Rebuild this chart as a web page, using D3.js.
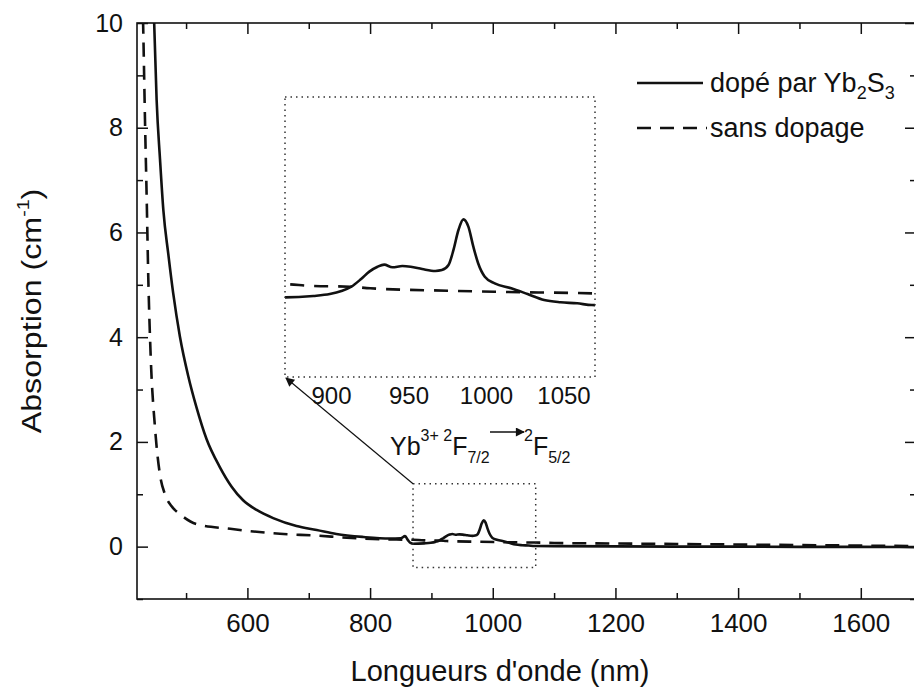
<!DOCTYPE html>
<html><head><meta charset="utf-8">
<script src="https://cdn.jsdelivr.net/npm/d3@7"></script>
<style>
html,body{margin:0;padding:0;background:#fff;}
svg{display:block;}
text{font-family:"Liberation Sans",Arial,Helvetica,sans-serif;fill:#111;}
</style></head>
<body>
<svg id="chart" width="914" height="695"></svg>
<script>
// ---- data ----
const dopedWavelength = [445, 448, 452, 457.5, 463, 471, 479, 490, 503.5, 517, 533.5, 555, 574, 593, 615, 642, 680, 713, 745, 789, 832, 850, 857, 862, 866,
  870.2, 888.3, 898.9, 906.4, 912.8, 919.1, 924.4, 929.7, 934, 939.3, 945.7, 951.1, 958.5, 967, 971.2, 975.5, 978.7, 981.9, 985.1, 988.3, 991.5, 994.6, 998.9,
  1005.3, 1015.9, 1026.5, 1037.2, 1047.8, 1058.5, 1068, 1100, 1200, 1300, 1400, 1500, 1600, 1700];
const dopedAbsorption = [10.8, 10.0, 8.53, 7.40, 6.42, 5.59, 4.84, 4.01, 3.26, 2.66, 2.05, 1.52, 1.15, 0.885, 0.70, 0.545, 0.394, 0.318, 0.241, 0.184, 0.154, 0.16, 0.20, 0.12, 0.07,
  0.055, 0.063, 0.074, 0.091, 0.116, 0.160, 0.202, 0.230, 0.242, 0.227, 0.234, 0.230, 0.217, 0.206, 0.211, 0.240, 0.326, 0.440, 0.501, 0.459, 0.345, 0.250, 0.173,
  0.135, 0.107, 0.074, 0.040, 0.027, 0.021, 0.011, 0.01, 0.005, 0.0, 0.0, -0.005, -0.005, -0.01];
const undopedWavelength = [429, 430.3, 433, 435.8, 438.4, 442.3, 449.3, 457.5, 465.6, 476.5, 490, 517, 572, 653, 713, 762, 816, 870, 888, 912, 925, 975, 1005, 1068, 1100, 1200, 1300, 1400, 1500, 1600, 1700];
const undopedAbsorption = [10.5, 9.81, 8.16, 6.65, 5.14, 3.64, 2.28, 1.37, 1.0, 0.77, 0.62, 0.43, 0.34, 0.245, 0.21, 0.17, 0.14, 0.131, 0.12, 0.116, 0.107, 0.093, 0.087, 0.078, 0.07, 0.06, 0.05, 0.04, 0.03, 0.02, 0.01];
const seriesNames = ["dopé par Yb", "sans dopage"];
const xMajorTicks = [600, 800, 1000, 1200, 1400, 1600];
const xMinorTicks = [500, 700, 900, 1100, 1300, 1500];
const yMajorTicks = [0, 2, 4, 6, 8, 10];
const yMinorTicks = [-1, 1, 3, 5, 7, 9];
const insetTicks = [900, 950, 1000, 1050];
const xDomain = [420, 1690];
const yDomain = [-1, 10];
const insetXDomain = [870, 1070];
const insetYDomain = [-0.4, 1.2];

// ---- layout ----
const svg = d3.select("#chart");
const L = 137, T = 23, R = 916, B = 599;
const x = d3.scaleLinear().domain(xDomain).range([L, R]);
const y = d3.scaleLinear().domain(yDomain).range([B, T]);
const xi = d3.scaleLinear().domain(insetXDomain).range([285, 595]);
const yi = d3.scaleLinear().domain(insetYDomain).range([377, 97]);

const defs = svg.append("defs");
defs.append("clipPath").attr("id","clipMain").append("rect").attr("x",L).attr("y",T).attr("width",R-L).attr("height",B-T);
defs.append("clipPath").attr("id","clipInset").append("rect").attr("x",xi.range()[0]).attr("y",yi.range()[1]).attr("width",xi.range()[1]-xi.range()[0]).attr("height",yi.range()[0]-yi.range()[1]);
defs.append("marker").attr("id","arr").attr("viewBox","0 0 10 10").attr("refX",9).attr("refY",5)
  .attr("markerWidth",14).attr("markerHeight",9).attr("markerUnits","userSpaceOnUse").attr("orient","auto")
  .append("path").attr("d","M0,0 L10,5 L0,10 z").attr("fill","#111");

const dopedData = dopedWavelength.map((w,i)=>({w, a: dopedAbsorption[i]}));
const undopedData = undopedWavelength.map((w,i)=>({w, a: undopedAbsorption[i]}));

// axes (inward ticks)
function styleAxis(g){ g.select(".domain").remove(); g.selectAll("line").attr("stroke","#111").attr("stroke-width",1.5); g.selectAll("text").attr("font-family","Liberation Sans, Arial, sans-serif").attr("fill","#111"); }
svg.append("g").attr("transform",`translate(0,${B})`).call(d3.axisBottom(x).tickValues(xMajorTicks).tickSize(-11).tickPadding(15).tickFormat(d3.format("d"))).call(styleAxis).selectAll("text").attr("font-size",26);
svg.append("g").attr("transform",`translate(0,${B})`).call(d3.axisBottom(x).tickValues(xMinorTicks).tickSize(-6).tickFormat("")).call(styleAxis);
svg.append("g").attr("transform",`translate(0,${T})`).call(d3.axisTop(x).tickValues(xMajorTicks).tickSize(-11).tickFormat("")).call(styleAxis);
svg.append("g").attr("transform",`translate(0,${T})`).call(d3.axisTop(x).tickValues(xMinorTicks).tickSize(-6).tickFormat("")).call(styleAxis);
svg.append("g").attr("transform",`translate(${L},0)`).call(d3.axisLeft(y).tickValues(yMajorTicks).tickSize(-11).tickPadding(14).tickFormat(d3.format("d"))).call(styleAxis).selectAll("text").attr("font-size",25);
svg.append("g").attr("transform",`translate(${L},0)`).call(d3.axisLeft(y).tickValues(yMinorTicks).tickSize(-6).tickFormat("")).call(styleAxis);
svg.append("g").attr("transform",`translate(${R},0)`).call(d3.axisRight(y).tickValues(yMajorTicks).tickSize(-11).tickFormat("")).call(styleAxis);
svg.append("g").attr("transform",`translate(${R},0)`).call(d3.axisRight(y).tickValues(yMinorTicks).tickSize(-6).tickFormat("")).call(styleAxis);

svg.append("rect").attr("x",L).attr("y",T).attr("width",R-L).attr("height",B-T).attr("fill","none").attr("stroke","#111").attr("stroke-width",1.6);

// main curves
const line = d3.line().x(d=>x(d.w)).y(d=>y(d.a)).curve(d3.curveMonotoneX);
const gMain = svg.append("g").attr("clip-path","url(#clipMain)");
gMain.append("path").datum(undopedData).attr("d",line).attr("fill","none").attr("stroke","#111").attr("stroke-width",2.6).attr("stroke-dasharray","14,9");
gMain.append("path").datum(dopedData).attr("d",line).attr("fill","none").attr("stroke","#111").attr("stroke-width",2.6);

// zoom box in main plot
const zx0 = x(insetXDomain[0]), zx1 = x(insetXDomain[1]), zy0 = y(insetYDomain[1]), zy1 = y(insetYDomain[0]);
svg.append("rect").attr("x",zx0).attr("y",zy0).attr("width",zx1-zx0).attr("height",zy1-zy0)
  .attr("fill","none").attr("stroke","#333").attr("stroke-width",1.5).attr("stroke-dasharray","1.5,4");

// inset
const ix0 = xi.range()[0], ix1 = xi.range()[1], iy0 = yi.range()[1], iy1 = yi.range()[0];
const lineI = d3.line().x(d=>xi(d.w)).y(d=>yi(d.a)).curve(d3.curveMonotoneX);
const gIn = svg.append("g").attr("clip-path","url(#clipInset)");
gIn.append("path").datum(undopedData).attr("d",lineI).attr("fill","none").attr("stroke","#111").attr("stroke-width",2.6).attr("stroke-dasharray","14,10");
gIn.append("path").datum(dopedData).attr("d",lineI).attr("fill","none").attr("stroke","#111").attr("stroke-width",2.6);
svg.append("rect").attr("x",ix0).attr("y",iy0).attr("width",ix1-ix0).attr("height",iy1-iy0)
  .attr("fill","none").attr("stroke","#333").attr("stroke-width",1.5).attr("stroke-dasharray","1.5,4");
svg.append("g").selectAll("text").data(insetTicks).join("text")
  .attr("x",d=>xi(d)).attr("y",iy1+27).attr("text-anchor","middle").attr("font-size",24).text(d=>d);

// leader arrow
svg.append("line").attr("x1",zx0).attr("y1",zy0).attr("x2",ix0+1).attr("y2",iy1+1)
  .attr("stroke","#111").attr("stroke-width",1.2).attr("marker-end","url(#arr)");

// annotation
const ann = svg.append("text").attr("x",390).attr("y",455).attr("font-size",25);
ann.append("tspan").text("Yb");
ann.append("tspan").attr("dy",-14).attr("font-size",16).text("3+ 2");
ann.append("tspan").attr("dy",14).text("F");
ann.append("tspan").attr("dy",8).attr("font-size",16).text("7/2");
svg.append("line").attr("x1",490).attr("y1",432).attr("x2",524).attr("y2",432).attr("stroke","#111").attr("stroke-width",1.5).attr("marker-end","url(#arr)");
const ann2 = svg.append("text").attr("x",524).attr("y",455).attr("font-size",25);
ann2.append("tspan").attr("dy",-14).attr("font-size",16).text("2");
ann2.append("tspan").attr("dy",14).text("F");
ann2.append("tspan").attr("dy",8).attr("font-size",16).text("5/2");

// legend
const lg = svg.append("g");
lg.append("line").attr("x1",637).attr("x2",703).attr("y1",83).attr("y2",83).attr("stroke","#111").attr("stroke-width",2.6);
const t1 = lg.append("text").attr("x",710).attr("y",92).attr("font-size",27);
t1.append("tspan").text(seriesNames[0]);
t1.append("tspan").attr("dy",7).attr("font-size",18).text("2");
t1.append("tspan").attr("dy",-7).text("S");
t1.append("tspan").attr("dy",7).attr("font-size",18).text("3");
lg.append("line").attr("x1",637).attr("x2",707).attr("y1",128).attr("y2",128).attr("stroke","#111").attr("stroke-width",2.6).attr("stroke-dasharray","14,9");
lg.append("text").attr("x",710).attr("y",137).attr("font-size",27).text(seriesNames[1]);

// axis titles
svg.append("text").attr("x",500).attr("y",681).attr("text-anchor","middle").attr("font-size",29).text("Longueurs d'onde (nm)");
const yt = svg.append("text").attr("transform",`translate(41,${(T+B)/2}) rotate(-90) scale(1.15,1)`).attr("text-anchor","middle").attr("font-size",28);
yt.append("tspan").text("Absorption (cm");
yt.append("tspan").attr("dy",-12).attr("font-size",17).text("-1");
yt.append("tspan").attr("dy",12).text(")");
</script>
</body></html>
